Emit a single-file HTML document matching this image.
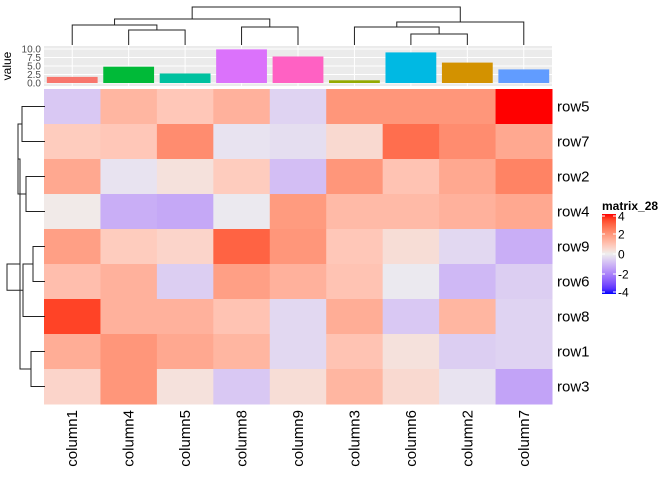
<!DOCTYPE html>
<html><head><meta charset="utf-8"><style>
body{margin:0;background:#fff;font-family:"Liberation Sans",sans-serif}
</style></head><body>
<svg id="c" width="672" height="480" xmlns="http://www.w3.org/2000/svg"></svg>
<script>
const columns=["column1","column4","column5","column8","column9","column3","column6","column2","column7"];
const rows=["row5","row7","row2","row4","row9","row6","row8","row1","row3"];
const barValues=[1.8,4.8,2.8,9.9,7.8,0.8,9.0,6.0,4.0];
const barColors=["#F8766D","#00BA38","#00C19F","#DB72FB","#FF61C3","#93AA00","#00B9E3","#D39200","#619CFF"];
const yTicks=[0,2.5,5,7.5,10];
const legendTicks=[4,2,0,-2,-4];
const matrix=[
[-0.7,1.3,0.9,1.4,-0.5,2.0,2.0,2.0,4.0],
[0.8,0.9,2.2,-0.2,-0.3,0.5,2.8,2.2,1.6],
[1.6,-0.2,0.3,0.8,-0.9,2.0,1.0,1.6,2.4],
[0.1,-1.2,-1.3,-0.1,1.9,1.2,1.2,1.4,1.6],
[1.8,0.8,0.6,3.0,2.0,0.9,0.4,-0.4,-1.2],
[1.1,1.4,-0.6,1.8,1.4,1.0,-0.1,-1.0,-0.6],
[3.5,1.4,1.4,1.0,-0.4,1.5,-0.7,1.3,-0.5],
[1.5,2.0,1.6,1.3,-0.4,1.0,0.3,-0.6,-0.5],
[0.6,2.0,0.3,-0.7,0.4,1.3,0.5,-0.2,-1.4]];
const colMerges=[[1,2,30],[0,9,25],[3,4,27],[10,11,19],[6,7,34],[5,13,27],[14,8,22],[12,15,7]];
const rowMerges=[[0,1,22],[2,3,26],[9,10,18],[4,5,33],[7,8,31],[6,12,23],[11,13,20],[14,15,7]];

const svg=document.getElementById('c');const NS='http://www.w3.org/2000/svg';
function el(t,a,p){const e=document.createElementNS(NS,t);for(const k in a)e.setAttribute(k,a[k]);(p||svg).appendChild(e);return e;}
const X0=44,X1=552,Y0=89,Y1=404;
const cw=(X1-X0)/columns.length,rh=(Y1-Y0)/rows.length;
const cx=i=>X0+cw*(i+0.5), ry=i=>Y0+rh*(i+0.5);
function s2l(c){c/=255;return c<=0.04045?c/12.92:Math.pow((c+0.055)/1.055,2.4);}
function l2s(c){c=c<=0.0031308?12.92*c:1.055*Math.pow(c,1/2.4)-0.055;return Math.round(Math.max(0,Math.min(1,c))*255);}
const WX=0.95047,WY=1,WZ=1.08883;
function f(t){return t>0.008856?Math.cbrt(t):7.787*t+16/116;}
function fi(t){return t>0.206893?t*t*t:(t-16/116)/7.787;}
function toLab([r,g,b]){r=s2l(r);g=s2l(g);b=s2l(b);
 const x=(0.4124*r+0.3576*g+0.1805*b)/WX,y=(0.2126*r+0.7152*g+0.0722*b)/WY,z=(0.0193*r+0.1192*g+0.9505*b)/WZ;
 return [116*f(y)-16,500*(f(x)-f(y)),200*(f(y)-f(z))];}
function fromLab([L,a,b]){const fy=(L+16)/116,fx=fy+a/500,fz=fy-b/200;
 const x=fi(fx)*WX,y=fi(fy)*WY,z=fi(fz)*WZ;
 const r=3.2406*x-1.5372*y-0.4986*z,g=-0.9689*x+1.8758*y+0.0415*z,bb=0.0557*x-0.2040*y+1.0570*z;
 return `rgb(${l2s(r)},${l2s(g)},${l2s(bb)})`;}
const LW=toLab([238,238,238]),LR=toLab([255,0,0]),LB=toLab([0,0,255]);
function colorOf(v){const t=Math.min(1,Math.abs(v)/4);const E=v>=0?LR:LB;
 return fromLab(LW.map((w,k)=>w+(E[k]-w)*t));}
const hm=el('g',{});
matrix.forEach((r,i)=>r.forEach((v,j)=>{const c=el('rect',{x:X0+cw*j,y:Y0+rh*i,width:cw+0.5,height:rh+0.5,fill:colorOf(v)},hm);
 }));
rows.forEach((r,i)=>{const t=el('text',{x:557,y:ry(i)+5,'font-size':15,fill:'#000'});t.textContent=r;
 });
columns.forEach((c,j)=>{const t=el('text',{transform:`translate(${cx(j)+5},410) rotate(-90)`,'text-anchor':'end','font-size':15,fill:'#000'});t.textContent=c;
 });
const BY0=83,bv=v=>BY0-(v/10)*(BY0-49);
const bp=el('g',{});
el('rect',{x:X0,y:46,width:X1-X0,height:40,fill:'#EBEBEB'},bp);
yTicks.forEach(v=>{el('line',{x1:X0,x2:X1,y1:bv(v),y2:bv(v),stroke:'#fff','stroke-width':1},bp);
 const t=el('text',{x:41,y:bv(v)+3.5,'text-anchor':'end','font-size':10,fill:'#4d4d4d'},bp);t.textContent=v.toFixed(1);
 });
columns.forEach((c,j)=>el('line',{x1:cx(j),x2:cx(j),y1:46,y2:86,stroke:'#fff'},bp));
barValues.forEach((v,j)=>{const b=el('rect',{x:cx(j)-cw*0.45,y:bv(v),width:cw*0.9,height:BY0-bv(v),fill:barColors[j]},bp);
 });
const vt=el('text',{transform:'translate(11,66) rotate(-90)','text-anchor':'middle','font-size':12,fill:'#000'});vt.textContent='value';

function dendro(merges,n,pos,horizontal,base,name){
 const g=el('g',{fill:'none',stroke:'#222','stroke-width':1});
 const P=[],H=[];for(let i=0;i<n;i++){P.push(pos(i));H.push(base);}
 merges.forEach(([a,b,h])=>{const pts=horizontal?
  `${H[a]},${P[a]} ${h},${P[a]} ${h},${P[b]} ${H[b]},${P[b]}`:
  `${P[a]},${H[a]} ${P[a]},${h} ${P[b]},${h} ${P[b]},${H[b]}`;
  el('polyline',{points:pts},g);P.push((P[a]+P[b])/2);H.push(h);});
}
dendro(colMerges,columns.length,cx,false,45,'column-dendrogram');
dendro(rowMerges,rows.length,ry,true,45,'row-dendrogram');
const lg=el('g',{});
const lt=el('text',{x:602,y:210,'font-size':12,'font-weight':'bold'},lg);lt.textContent='matrix_28';
const defs=el('defs',{});const gr=el('linearGradient',{id:'lgd',x1:0,y1:0,x2:0,y2:1},defs);
for(let k=0;k<=16;k++){const v=4-k/2;el('stop',{offset:k/16,'stop-color':colorOf(v)},gr);}
el('rect',{x:602,y:214,width:14,height:80,fill:'url(#lgd)'},lg);
legendTicks.forEach(v=>{const y=214+(4-v)/8*80;const yy=Math.min(292,Math.max(216,y));
 el('line',{x1:602,x2:605,y1:yy,y2:yy,stroke:'#fff'},lg);el('line',{x1:613,x2:616,y1:yy,y2:yy,stroke:'#fff'},lg);
 const t=el('text',{x:618,y:yy+4.5,'font-size':12},lg);t.textContent=v;
 });
</script>
</body></html>
